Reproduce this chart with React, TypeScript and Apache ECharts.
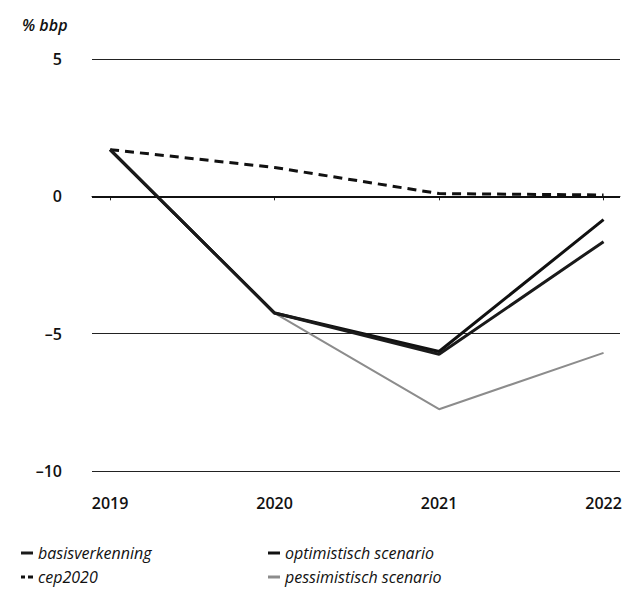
import React, { useEffect, useRef } from "react";
import * as echarts from "echarts";

const years = [2019, 2020, 2021, 2022];
const basisverkenning = [1.7, -4.25, -5.75, -1.65];
const cep2020 = [1.7, 1.05, 0.1, 0.05];
const optimistisch = [1.7, -4.25, -5.65, -0.85];
const pessimistisch = [1.7, -4.25, -7.75, -5.7];
const yTicks = [-10, -5, 0, 5];

const FONT = "'Open Sans', 'Noto Sans', sans-serif";

const pairs = (vals: number[]) => years.map((y, i) => [y, vals[i]]);

export default function App() {
  const ref = useRef<HTMLDivElement>(null);
  useEffect(() => {
    if (!ref.current) return;
    const chart = echarts.init(ref.current, undefined, { renderer: "svg" });
    const legendText = { fontFamily: FONT, fontStyle: "italic", fontSize: 16, color: "#111", lineHeight: 20 };
    chart.setOption({
      animation: false,
      backgroundColor: "#fff",
      title: {
        text: "% bbp",
        left: 17,
        top: 12,
        textStyle: { fontFamily: FONT, fontStyle: "italic", fontWeight: 600, fontSize: 16, color: "#111" },
      },
      grid: { left: 92, right: 7, top: 59, height: 412 },
      xAxis: {
        type: "value",
        min: 2018.89,
        max: 2022.1,
        splitLine: { show: false },
        axisLine: { show: true, lineStyle: { color: "#222", width: 1 } },
        axisTick: { show: true, customValues: years, length: 4, lineStyle: { color: "#222" } },
        axisLabel: {
          customValues: years,
          formatter: (v: number) => String(Math.round(v)),
          margin: 24,
          fontFamily: FONT,
          fontWeight: 600,
          fontSize: 16,
          color: "#111",
        },
      },
      yAxis: {
        type: "value",
        min: -10,
        max: 5,
        interval: 5,
        axisLine: { show: false },
        axisTick: { show: false },
        splitLine: { show: true, lineStyle: { color: "#222", width: 1 } },
        axisLabel: {
          margin: 30,
          fontFamily: FONT,
          fontWeight: 600,
          fontSize: 16,
          color: "#111",
          formatter: (v: number) => (yTicks.includes(v) ? String(v).replace("-", "–") : ""),
        },
      },
      legend: [
        {
          left: 16,
          top: 538,
          orient: "vertical",
          itemGap: 4,
          itemWidth: 12,
          itemHeight: 3,
          textStyle: legendText,
          data: [
            { name: "basisverkenning", icon: "rect" },
            { name: "cep2020", icon: "path://M0,0h4v3h-4z M7,0h5v3h-5z" },
          ],
        },
        {
          left: 263,
          top: 538,
          orient: "vertical",
          itemGap: 4,
          itemWidth: 12,
          itemHeight: 3,
          textStyle: legendText,
          data: [
            { name: "optimistisch scenario", icon: "rect" },
            { name: "pessimistisch scenario", icon: "rect" },
          ],
        },
      ],
      series: [
        {
          name: "pessimistisch scenario",
          type: "line",
          data: pairs(pessimistisch),
          symbol: "none",
          lineStyle: { color: "#8c8c8c", width: 2 },
          itemStyle: { color: "#8c8c8c" },
          z: 2,
        },
        {
          name: "cep2020",
          type: "line",
          data: pairs(cep2020),
          symbol: "none",
          lineStyle: { color: "#111", width: 3, type: [9, 6] },
          itemStyle: { color: "#111" },
          z: 3,
          markLine: {
            silent: true,
            symbol: "none",
            label: { show: false },
            lineStyle: { color: "#111", width: 2, type: "solid" },
            data: [{ yAxis: 0 }],
            z: 1,
          },
        },
        {
          name: "optimistisch scenario",
          type: "line",
          data: pairs(optimistisch),
          symbol: "none",
          lineStyle: { color: "#111", width: 3 },
          itemStyle: { color: "#111" },
          z: 4,
        },
        {
          name: "basisverkenning",
          type: "line",
          data: pairs(basisverkenning),
          symbol: "none",
          lineStyle: { color: "#1a1a1a", width: 3 },
          itemStyle: { color: "#1a1a1a" },
          z: 5,
        },
      ],
    });
    return () => chart.dispose();
  }, []);
  return <div ref={ref} style={{ position: "fixed", left: 0, top: 0, width: 627, height: 600 }} />;
}
